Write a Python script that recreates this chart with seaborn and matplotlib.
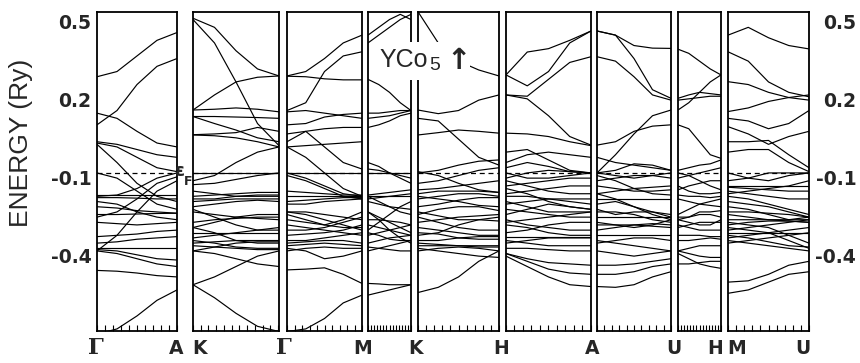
import numpy as np
import pandas as pd
import matplotlib
matplotlib.use("Agg")
import matplotlib.pyplot as plt
import seaborn as sns
from matplotlib.ticker import MultipleLocator
from matplotlib.transforms import ScaledTranslation
from matplotlib.patches import Rectangle

# ---------------- data (energies in Ry, sampled at 5 k points per segment) ----------------
E_FERMI = -0.1
ytick_vals = [0.5, 0.2, -0.1, -0.4]
ytick_labels = ["0.5", "0.2", "-0.1", "-0.4"]
k_labels = ["Γ", "A", "K", "Γ", "M", "K", "H", "A", "U", "H", "M", "U"]
title_text = "YCo"

bands_GA = [
    [0.27, 0.29, 0.35, 0.41, 0.44],
    [0.085, 0.14, 0.24, 0.31, 0.34],
    [0.13, 0.11, 0.06, 0.015, 0.0],
    [0.02, 0.01, -0.01, -0.03, -0.04],
    [0.015, 0.0, -0.04, -0.08, -0.095],
    [0.01, -0.06, -0.14, -0.19, -0.21],
    [-0.10, -0.12, -0.17, -0.22, -0.24],
    [-0.19, -0.185, -0.16, -0.12, -0.10],
    [-0.27, -0.25, -0.20, -0.14, -0.115],
    [-0.40, -0.34, -0.25, -0.17, -0.13],
    [-0.185, -0.185, -0.185, -0.185, -0.185],
    [-0.195, -0.195, -0.197, -0.20, -0.20],
    [-0.21, -0.22, -0.25, -0.27, -0.28],
    [-0.23, -0.235, -0.245, -0.25, -0.255],
    [-0.26, -0.26, -0.258, -0.256, -0.255],
    [-0.29, -0.295, -0.30, -0.295, -0.29],
    [-0.345, -0.34, -0.335, -0.325, -0.32],
    [-0.37, -0.365, -0.355, -0.35, -0.345],
    [-0.39, -0.39, -0.39, -0.39, -0.39],
    [-0.395, -0.40, -0.415, -0.43, -0.435],
    [-0.40, -0.41, -0.43, -0.45, -0.46],
    [-0.475, -0.478, -0.485, -0.495, -0.50],
    [-0.72, -0.70, -0.65, -0.59, -0.55],
]

bands_KG = [
    [0.495, 0.46, 0.37, 0.30, 0.273],
    [0.49, 0.40, 0.25, 0.09, 0.005],
    [0.142, 0.20, 0.25, 0.268, 0.273],
    [0.142, 0.145, 0.15, 0.145, 0.135],
    [0.117, 0.117, 0.115, 0.113, 0.11],
    [0.117, 0.09, 0.065, 0.035, 0.02],
    [0.046, 0.043, 0.035, 0.02, 0.0],
    [0.047, 0.05, 0.055, 0.075, 0.06],
    [-0.13, -0.11, -0.06, -0.02, 0.0],
    [-0.10, -0.10, -0.10, -0.10, -0.10],
    [-0.145, -0.14, -0.125, -0.11, -0.10],
    [-0.17, -0.18, -0.19, -0.19, -0.19],
    [-0.19, -0.185, -0.18, -0.175, -0.175],
    [-0.20, -0.20, -0.19, -0.185, -0.185],
    [-0.21, -0.205, -0.20, -0.20, -0.20],
    [-0.23, -0.22, -0.21, -0.205, -0.21],
    [-0.24, -0.27, -0.30, -0.32, -0.32],
    [-0.25, -0.26, -0.27, -0.275, -0.28],
    [-0.29, -0.28, -0.275, -0.27, -0.27],
    [-0.31, -0.29, -0.27, -0.26, -0.26],
    [-0.31, -0.33, -0.36, -0.37, -0.37],
    [-0.33, -0.33, -0.33, -0.33, -0.33],
    [-0.35, -0.34, -0.33, -0.32, -0.31],
    [-0.36, -0.37, -0.385, -0.39, -0.39],
    [-0.37, -0.365, -0.36, -0.36, -0.36],
    [-0.38, -0.385, -0.39, -0.395, -0.395],
    [-0.40, -0.385, -0.37, -0.365, -0.365],
    [-0.40, -0.41, -0.43, -0.45, -0.46],
    [-0.53, -0.50, -0.46, -0.42, -0.40],
    [-0.53, -0.58, -0.64, -0.69, -0.71],
]

bands_GM = [
    [0.273, 0.29, 0.34, 0.40, 0.43],
    [0.272, 0.27, 0.262, 0.258, 0.258],
    [0.14, 0.17, 0.29, 0.35, 0.366],
    [0.135, 0.14, 0.13, 0.12, 0.11],
    [0.085, 0.09, 0.115, 0.125, 0.13],
    [0.02, 0.06, 0.0, -0.06, -0.085],
    [0.0, 0.005, 0.01, 0.015, 0.02],
    [0.05, 0.06, 0.07, 0.075, 0.075],
    [0.0, -0.04, -0.10, -0.16, -0.19],
    [-0.10, -0.10, -0.10, -0.10, -0.10],
    [-0.10, -0.12, -0.15, -0.18, -0.19],
    [-0.11, -0.13, -0.16, -0.19, -0.20],
    [-0.17, -0.175, -0.18, -0.185, -0.185],
    [-0.19, -0.19, -0.19, -0.19, -0.19],
    [-0.21, -0.205, -0.20, -0.195, -0.195],
    [-0.22, -0.22, -0.21, -0.205, -0.20],
    [-0.25, -0.26, -0.28, -0.30, -0.32],
    [-0.25, -0.25, -0.26, -0.27, -0.28],
    [-0.26, -0.28, -0.30, -0.31, -0.31],
    [-0.28, -0.29, -0.30, -0.28, -0.25],
    [-0.30, -0.31, -0.32, -0.33, -0.34],
    [-0.32, -0.32, -0.31, -0.29, -0.27],
    [-0.34, -0.335, -0.33, -0.32, -0.30],
    [-0.36, -0.36, -0.35, -0.34, -0.33],
    [-0.37, -0.365, -0.36, -0.36, -0.37],
    [-0.38, -0.375, -0.37, -0.375, -0.38],
    [-0.39, -0.40, -0.43, -0.42, -0.40],
    [-0.40, -0.39, -0.385, -0.39, -0.39],
    [-0.473, -0.47, -0.465, -0.49, -0.525],
    [-0.71, -0.70, -0.66, -0.60, -0.57],
]

bands_MK = [
    [0.43, 0.46, 0.49, 0.51, 0.49],
    [0.40, 0.43, 0.46, 0.49, 0.51],
    [0.26, 0.24, 0.21, 0.17, 0.14],
    [0.13, 0.13, 0.135, 0.14, 0.14],
    [0.11, 0.115, 0.12, 0.13, 0.14],
    [0.075, 0.085, 0.10, 0.12, 0.13],
    [-0.06, -0.075, -0.10, -0.12, -0.14],
    [-0.085, -0.09, -0.10, -0.11, -0.12],
    [-0.10, -0.10, -0.10, -0.10, -0.10],
    [-0.185, -0.18, -0.175, -0.17, -0.165],
    [-0.19, -0.19, -0.19, -0.19, -0.19],
    [-0.20, -0.195, -0.19, -0.185, -0.18],
    [-0.19, -0.21, -0.23, -0.25, -0.26],
    [-0.21, -0.22, -0.23, -0.235, -0.24],
    [-0.32, -0.29, -0.26, -0.23, -0.21],
    [-0.25, -0.27, -0.29, -0.31, -0.33],
    [-0.28, -0.28, -0.285, -0.29, -0.30],
    [-0.25, -0.28, -0.32, -0.35, -0.37],
    [-0.30, -0.31, -0.32, -0.33, -0.34],
    [-0.34, -0.33, -0.32, -0.31, -0.30],
    [-0.33, -0.34, -0.355, -0.36, -0.36],
    [-0.37, -0.36, -0.35, -0.345, -0.34],
    [-0.40, -0.39, -0.38, -0.37, -0.36],
    [-0.385, -0.39, -0.395, -0.40, -0.40],
    [-0.525, -0.527, -0.53, -0.53, -0.53],
    [-0.57, -0.56, -0.55, -0.54, -0.53],
]

bands_KH = [
    [0.52, 0.40, 0.33, 0.296, 0.273],
    [0.142, 0.128, 0.14, 0.18, 0.20],
    [0.11, 0.10, 0.03, -0.04, -0.07],
    [0.046, 0.055, 0.065, 0.06, 0.053],
    [-0.10, -0.09, -0.07, -0.055, -0.05],
    [-0.095, -0.11, -0.14, -0.165, -0.175],
    [-0.14, -0.13, -0.11, -0.09, -0.08],
    [-0.165, -0.16, -0.15, -0.14, -0.13],
    [-0.18, -0.17, -0.17, -0.17, -0.175],
    [-0.19, -0.20, -0.21, -0.225, -0.23],
    [-0.20, -0.19, -0.18, -0.18, -0.19],
    [-0.23, -0.22, -0.205, -0.195, -0.195],
    [-0.25, -0.265, -0.28, -0.28, -0.27],
    [-0.26, -0.24, -0.23, -0.23, -0.245],
    [-0.27, -0.29, -0.31, -0.32, -0.32],
    [-0.29, -0.28, -0.27, -0.265, -0.26],
    [-0.31, -0.32, -0.33, -0.34, -0.34],
    [-0.33, -0.335, -0.35, -0.355, -0.355],
    [-0.34, -0.33, -0.30, -0.28, -0.285],
    [-0.36, -0.36, -0.35, -0.345, -0.345],
    [-0.37, -0.375, -0.38, -0.38, -0.38],
    [-0.38, -0.38, -0.38, -0.385, -0.385],
    [-0.39, -0.40, -0.41, -0.42, -0.425],
    [-0.40, -0.39, -0.385, -0.39, -0.40],
    [-0.56, -0.54, -0.50, -0.44, -0.40],
]

bands_HA = [
    [0.277, 0.365, 0.378, 0.41, 0.446],
    [0.277, 0.235, 0.29, 0.40, 0.446],
    [0.20, 0.195, 0.26, 0.325, 0.347],
    [0.20, 0.185, 0.12, 0.04, 0.007],
    [0.053, 0.05, 0.04, 0.02, 0.005],
    [-0.02, -0.01, -0.05, -0.09, -0.10],
    [-0.06, -0.03, -0.02, -0.03, -0.04],
    [-0.08, -0.06, -0.075, -0.095, -0.10],
    [-0.10, -0.12, -0.12, -0.11, -0.10],
    [-0.12, -0.10, -0.09, -0.095, -0.10],
    [-0.13, -0.15, -0.17, -0.18, -0.18],
    [-0.15, -0.14, -0.13, -0.12, -0.12],
    [-0.16, -0.18, -0.21, -0.23, -0.24],
    [-0.18, -0.17, -0.16, -0.15, -0.15],
    [-0.19, -0.19, -0.20, -0.20, -0.20],
    [-0.21, -0.23, -0.25, -0.25, -0.25],
    [-0.22, -0.21, -0.20, -0.21, -0.22],
    [-0.24, -0.25, -0.26, -0.27, -0.27],
    [-0.26, -0.24, -0.22, -0.23, -0.24],
    [-0.28, -0.30, -0.31, -0.32, -0.32],
    [-0.29, -0.28, -0.27, -0.26, -0.25],
    [-0.30, -0.31, -0.33, -0.34, -0.34],
    [-0.33, -0.32, -0.30, -0.29, -0.29],
    [-0.345, -0.345, -0.345, -0.345, -0.345],
    [-0.36, -0.37, -0.38, -0.38, -0.38],
    [-0.37, -0.36, -0.35, -0.35, -0.35],
    [-0.39, -0.39, -0.395, -0.40, -0.40],
    [-0.41, -0.43, -0.445, -0.45, -0.455],
    [-0.41, -0.44, -0.47, -0.485, -0.49],
    [-0.42, -0.46, -0.50, -0.53, -0.537],
]

bands_AU = [
    [0.446, 0.43, 0.39, 0.38, 0.379],
    [0.446, 0.43, 0.34, 0.22, 0.187],
    [0.347, 0.33, 0.27, 0.20, 0.18],
    [0.007, 0.02, 0.06, 0.08, 0.085],
    [-0.10, -0.03, 0.05, 0.12, 0.142],
    [-0.04, -0.06, -0.07, -0.08, -0.09],
    [-0.10, -0.09, -0.065, -0.07, -0.09],
    [-0.10, -0.11, -0.12, -0.11, -0.10],
    [-0.11, -0.13, -0.16, -0.18, -0.185],
    [-0.13, -0.12, -0.11, -0.11, -0.12],
    [-0.15, -0.16, -0.17, -0.17, -0.165],
    [-0.18, -0.17, -0.16, -0.155, -0.15],
    [-0.18, -0.20, -0.23, -0.26, -0.28],
    [-0.20, -0.20, -0.20, -0.20, -0.20],
    [-0.22, -0.21, -0.23, -0.25, -0.26],
    [-0.24, -0.26, -0.25, -0.25, -0.27],
    [-0.25, -0.25, -0.26, -0.28, -0.29],
    [-0.27, -0.27, -0.27, -0.27, -0.27],
    [-0.29, -0.30, -0.31, -0.30, -0.28],
    [-0.30, -0.30, -0.30, -0.305, -0.31],
    [-0.32, -0.31, -0.30, -0.295, -0.30],
    [-0.34, -0.34, -0.34, -0.34, -0.34],
    [-0.36, -0.37, -0.38, -0.39, -0.40],
    [-0.37, -0.36, -0.35, -0.35, -0.36],
    [-0.40, -0.41, -0.42, -0.41, -0.40],
    [-0.455, -0.455, -0.45, -0.44, -0.43],
    [-0.49, -0.49, -0.48, -0.46, -0.45],
    [-0.537, -0.54, -0.53, -0.50, -0.48],
]

bands_UH = [
    [0.376, 0.36, 0.33, 0.30, 0.277],
    [0.142, 0.17, 0.21, 0.25, 0.277],
    [0.187, 0.20, 0.21, 0.205, 0.20],
    [0.18, 0.185, 0.19, 0.195, 0.195],
    [0.085, 0.07, 0.02, -0.03, -0.044],
    [-0.09, -0.08, -0.07, -0.065, -0.05],
    [-0.10, -0.11, -0.13, -0.15, -0.165],
    [-0.12, -0.11, -0.10, -0.09, -0.08],
    [-0.165, -0.15, -0.14, -0.13, -0.13],
    [-0.15, -0.17, -0.18, -0.18, -0.175],
    [-0.185, -0.19, -0.19, -0.195, -0.19],
    [-0.20, -0.21, -0.22, -0.225, -0.23],
    [-0.26, -0.24, -0.22, -0.21, -0.20],
    [-0.27, -0.27, -0.26, -0.26, -0.27],
    [-0.28, -0.29, -0.30, -0.30, -0.28],
    [-0.28, -0.27, -0.25, -0.25, -0.245],
    [-0.30, -0.31, -0.32, -0.32, -0.32],
    [-0.31, -0.30, -0.29, -0.29, -0.29],
    [-0.34, -0.34, -0.34, -0.345, -0.345],
    [-0.36, -0.36, -0.355, -0.35, -0.355],
    [-0.40, -0.39, -0.38, -0.38, -0.38],
    [-0.40, -0.41, -0.42, -0.425, -0.425],
    [-0.41, -0.43, -0.45, -0.46, -0.467],
    [-0.45, -0.45, -0.445, -0.44, -0.44],
]

bands_MU = [
    [0.43, 0.46, 0.42, 0.39, 0.377],
    [0.366, 0.33, 0.25, 0.21, 0.193],
    [0.251, 0.24, 0.21, 0.19, 0.18],
    [0.136, 0.15, 0.175, 0.19, 0.20],
    [0.11, 0.10, 0.07, 0.09, 0.14],
    [0.078, 0.05, 0.01, 0.04, 0.06],
    [0.02, 0.02, 0.025, -0.03, -0.08],
    [-0.02, -0.01, -0.01, -0.06, -0.095],
    [-0.10, -0.12, -0.13, -0.11, -0.10],
    [-0.13, -0.12, -0.10, -0.10, -0.10],
    [-0.15, -0.15, -0.15, -0.15, -0.15],
    [-0.155, -0.16, -0.165, -0.17, -0.17],
    [-0.17, -0.18, -0.19, -0.20, -0.20],
    [-0.18, -0.17, -0.16, -0.15, -0.13],
    [-0.19, -0.20, -0.22, -0.24, -0.26],
    [-0.21, -0.22, -0.23, -0.25, -0.27],
    [-0.23, -0.24, -0.26, -0.28, -0.28],
    [-0.25, -0.25, -0.255, -0.26, -0.27],
    [-0.26, -0.27, -0.28, -0.28, -0.27],
    [-0.28, -0.28, -0.28, -0.285, -0.29],
    [-0.29, -0.30, -0.31, -0.34, -0.37],
    [-0.30, -0.29, -0.285, -0.285, -0.29],
    [-0.31, -0.32, -0.33, -0.36, -0.39],
    [-0.32, -0.31, -0.30, -0.29, -0.28],
    [-0.33, -0.33, -0.33, -0.33, -0.33],
    [-0.34, -0.35, -0.365, -0.38, -0.385],
    [-0.35, -0.34, -0.33, -0.32, -0.31],
    [-0.36, -0.37, -0.38, -0.39, -0.40],
    [-0.37, -0.36, -0.35, -0.34, -0.33],
    [-0.52, -0.515, -0.49, -0.455, -0.44],
    [-0.563, -0.55, -0.52, -0.49, -0.48],
]

# ---------------- layout ----------------
W, H = 860, 363
TOP, BOT = 12, 331
YLIM = (-0.708, 0.519)

panels = [
    (bands_GA, 97, 177, 0.1),
    (bands_KG, 193, 279, 0.09),
    (bands_GM, 287, 362, 0.1),
    (bands_MK, 368, 411, 1 / 14),
    (bands_KH, 418, 499, 0.1),
    (bands_HA, 506, 591, 0.1),
    (bands_AU, 597, 671, 0.1),
    (bands_UH, 678, 721, 1 / 14),
    (bands_MU, 728, 809, 0.1),
]
k_label_x = [96, 176, 199, 284, 363, 416, 501, 592, 674, 715, 737, 803]

sns.set_theme(style="white")
plt.rcParams["font.family"] = ["DejaVu Sans"]

fig = plt.figure(figsize=(W / 100, H / 100), dpi=100)
fig.patch.set_facecolor("white")

def to_df(bands):
    rows = []
    for b, vals in enumerate(bands):
        kk = np.linspace(0, 1, len(vals))
        for k, e in zip(kk, vals):
            rows.append((b, k, e))
    return pd.DataFrame(rows, columns=["band", "k", "E"])

axes = []
for i, (bands, x0, x1, step) in enumerate(panels):
    ax = fig.add_axes([x0 / W, 1 - BOT / H, (x1 - x0) / W, (BOT - TOP) / H])
    df = to_df(bands)
    sns.lineplot(data=df, x="k", y="E", units="band", estimator=None,
                 sort=False, color="black", lw=0.85, ax=ax, legend=False)
    ax.axhline(E_FERMI, color="black", lw=0.9, ls=(0, (4, 3)), zorder=1)
    ax.set_xlim(0, 1)
    ax.set_ylim(*YLIM)
    ax.set_xlabel("")
    ax.set_ylabel("")
    ax.set_xticks([])
    ax.xaxis.set_minor_locator(MultipleLocator(step))
    ax.tick_params(axis="x", which="minor", direction="in", length=4,
                   width=0.8, bottom=True, top=False, color="black")
    ax.set_yticks([])
    for s in ax.spines.values():
        s.set_color("black")
        s.set_linewidth(1.3)
        s.set_visible(True)
    ax.set_facecolor("white")
    axes.append(ax)

# y tick labels (left & right)
tick_font = dict(family="DejaVu Sans", weight="bold", size=13.5)
axL = axes[0]
axL.set_yticks(ytick_vals)
axL.set_yticklabels(ytick_labels, **tick_font)
axL.tick_params(axis="y", left=True, length=0, pad=4)
axR = axes[-1]
axR.yaxis.tick_right()
axR.set_yticks(ytick_vals)
axR.set_yticklabels(ytick_labels, **tick_font, ha="right")
axR.tick_params(axis="y", right=True, left=False, length=0, pad=34)
for ax in (axL, axR):
    for lab in ax.get_yticklabels():
        lab.set_transform(lab.get_transform() +
                          ScaledTranslation(0, -3 / 72, fig.dpi_scale_trans))

# axis title
fig.text(21 / W, 1 - 143 / H, "ENERGY (Ry)", rotation=90, ha="center",
         va="center", family="Liberation Sans", size=19)

# k-point labels
for lab, px in zip(k_labels, k_label_x):
    fam = "DejaVu Serif" if lab == "Γ" else "DejaVu Sans"
    sz = 16 if lab == "Γ" else 13.5
    fig.text(px / W, 1 - 348 / H, lab, ha="center", va="center",
             family=fam, weight="bold", size=sz)

# Fermi level label
fig.text(180 / W, 1 - 171 / H, "ε", ha="center", va="center",
         weight="bold", size=13, zorder=12)
fig.text(188.5 / W, 1 - 181 / H, "F", ha="center", va="center",
         weight="bold", size=9, zorder=12)

# white block behind the compound label (covers bands and spines, as in the original)
fig.patches.append(Rectangle((374 / W, 1 - 80 / H), 96 / W, 38 / H,
                             transform=fig.transFigure, facecolor="white",
                             edgecolor="none", zorder=5))
fig.text(379 / W, 1 - 60 / H, title_text, ha="left", va="center",
         family="Liberation Sans", size=18, zorder=10)
fig.text(435 / W, 1 - 66 / H, "5", ha="center", va="center",
         family="Liberation Sans", size=14, zorder=11)
fig.text(459 / W, 1 - 61 / H, "↑", ha="center", va="center",
         family="DejaVu Sans", weight="bold", size=21, zorder=11)

fig.savefig("out.png", dpi=100, facecolor="white")
